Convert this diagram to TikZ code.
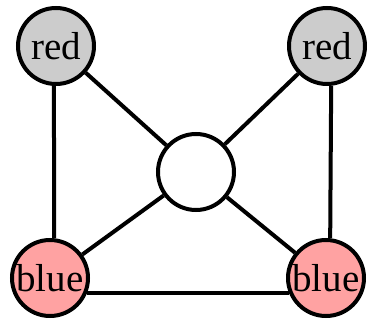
\documentclass[tikz,border=0pt]{standalone}
\usepackage{fontspec}
\setmainfont{Liberation Serif}
\definecolor{nodegray}{RGB}{204,204,204}
\definecolor{nodepink}{RGB}{255,162,162}
\begin{document}
\begin{tikzpicture}[x=1pt,y=-1pt,
  vert/.style={circle,draw=black,line width=4pt,minimum size=76pt,inner sep=0pt,
    font=\fontsize{39}{39}\selectfont},
  rednode/.style={vert,fill=nodegray},
  bluenode/.style={vert,fill=nodepink},
  midnode/.style={vert,fill=white},
  edge/.style={line width=4pt}]
\useasboundingbox (0,0) rectangle (367,320);
\node[rednode] (tl) at (56,46) {red};
\node[rednode] (tr) at (327,46) {red};
\node[midnode] (mid) at (196,172) {};
\node[bluenode] (bl) at (50,278) {blue};
\node[bluenode] (br) at (326,278) {blue};
\draw[edge] (tl.-93) -- (bl.84);
\draw[edge] (tr.-84) -- (br.84);
\draw[edge] (bl.-22) -- (br.202);
\draw[edge] (tl) -- (mid);
\draw[edge] (tr) -- (mid);
\draw[edge] (bl) -- (mid);
\draw[edge] (br) -- (mid);
\end{tikzpicture}
\end{document}
